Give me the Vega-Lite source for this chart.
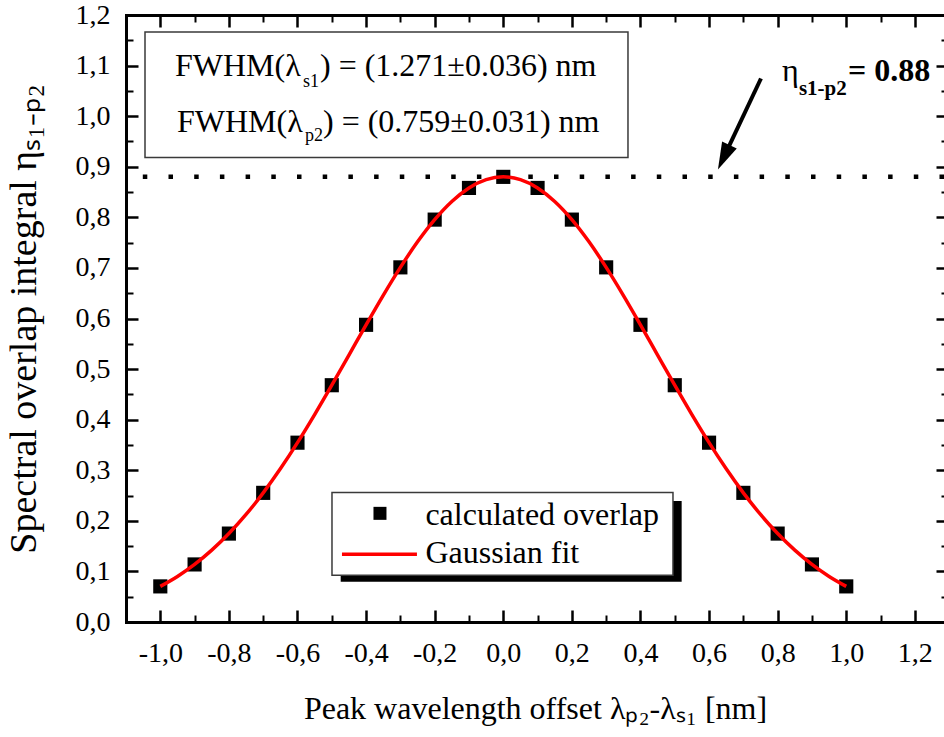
{
  "$schema": "https://vega.github.io/schema/vega-lite/v6.json",
  "width": 818,
  "height": 607,
  "autosize": {"type": "none"},
  "padding": {"left": 126, "top": 15, "right": 0, "bottom": 115},
  "background": "white",
  "config": {
    "view": {"stroke": null},
    "font": "Liberation Serif",
    "axis": {
      "grid": false,
      "labelFont": "Liberation Serif",
      "labelFontSize": 28,
      "labelColor": "black",
      "tickColor": "black",
      "domainColor": "black",
      "domainWidth": 3,
      "domainCap": "square",
      "tickWidth": 2.5,
      "titleFont": "Liberation Serif",
      "titleFontWeight": "normal",
      "titleColor": "black",
      "labelFlush": false,
      "labelOverlap": false
    },
    "text": {"font": "Liberation Serif", "color": "black"}
  },
  "datasets": {
    "overlap": [
      {"offset": -1.0, "eta": 0.0704},
      {"offset": -0.9, "eta": 0.1138},
      {"offset": -0.8, "eta": 0.1748},
      {"offset": -0.7, "eta": 0.2553},
      {"offset": -0.6, "eta": 0.3545},
      {"offset": -0.5, "eta": 0.4681},
      {"offset": -0.4, "eta": 0.5875},
      {"offset": -0.3, "eta": 0.7011},
      {"offset": -0.2, "eta": 0.7955},
      {"offset": -0.1, "eta": 0.8581},
      {"offset": 0.0, "eta": 0.88},
      {"offset": 0.1, "eta": 0.8581},
      {"offset": 0.2, "eta": 0.7955},
      {"offset": 0.3, "eta": 0.7011},
      {"offset": 0.4, "eta": 0.5875},
      {"offset": 0.5, "eta": 0.4681},
      {"offset": 0.6, "eta": 0.3545},
      {"offset": 0.7, "eta": 0.2553},
      {"offset": 0.8, "eta": 0.1748},
      {"offset": 0.9, "eta": 0.1138},
      {"offset": 1.0, "eta": 0.0704}
    ],
    "fit": [
      {"offset": -1.0, "eta": 0.0704},
      {"offset": -0.95, "eta": 0.0901},
      {"offset": -0.9, "eta": 0.1138},
      {"offset": -0.85, "eta": 0.142},
      {"offset": -0.8, "eta": 0.1748},
      {"offset": -0.75, "eta": 0.2126},
      {"offset": -0.7, "eta": 0.2553},
      {"offset": -0.65, "eta": 0.3028},
      {"offset": -0.6, "eta": 0.3545},
      {"offset": -0.55, "eta": 0.41},
      {"offset": -0.5, "eta": 0.4681},
      {"offset": -0.45, "eta": 0.5277},
      {"offset": -0.4, "eta": 0.5875},
      {"offset": -0.35, "eta": 0.6459},
      {"offset": -0.3, "eta": 0.7011},
      {"offset": -0.25, "eta": 0.7516},
      {"offset": -0.2, "eta": 0.7955},
      {"offset": -0.15, "eta": 0.8314},
      {"offset": -0.1, "eta": 0.8581},
      {"offset": -0.05, "eta": 0.8745},
      {"offset": 0.0, "eta": 0.88},
      {"offset": 0.05, "eta": 0.8745},
      {"offset": 0.1, "eta": 0.8581},
      {"offset": 0.15, "eta": 0.8314},
      {"offset": 0.2, "eta": 0.7955},
      {"offset": 0.25, "eta": 0.7516},
      {"offset": 0.3, "eta": 0.7011},
      {"offset": 0.35, "eta": 0.6459},
      {"offset": 0.4, "eta": 0.5875},
      {"offset": 0.45, "eta": 0.5277},
      {"offset": 0.5, "eta": 0.4681},
      {"offset": 0.55, "eta": 0.41},
      {"offset": 0.6, "eta": 0.3545},
      {"offset": 0.65, "eta": 0.3028},
      {"offset": 0.7, "eta": 0.2553},
      {"offset": 0.75, "eta": 0.2126},
      {"offset": 0.8, "eta": 0.1748},
      {"offset": 0.85, "eta": 0.142},
      {"offset": 0.9, "eta": 0.1138},
      {"offset": 0.95, "eta": 0.0901},
      {"offset": 1.0, "eta": 0.0704}
    ],
    "text32": [
      {"x": -0.9571, "y": 1.0798, "label": "FWHM(λ"},
      {"x": -0.5344, "y": 1.0798, "label": ") = (1.271±0.036) nm"},
      {"x": -0.9513, "y": 0.9695, "label": "FWHM(λ"},
      {"x": -0.5257, "y": 0.9695, "label": ") = (0.759±0.031) nm"},
      {"x": 0.8125, "y": 1.07, "label": "η"},
      {"x": -0.227, "y": 0.1911, "label": "calculated overlap"},
      {"x": -0.227, "y": 0.1163, "label": "Gaussian fit"}
    ],
    "text18": [
      {"x": -0.584, "y": 1.0581, "label": "s1"},
      {"x": -0.5781, "y": 0.9517, "label": "p2"}
    ]
  },
  "resolve": {"axis": {"x": "independent", "y": "independent"}},
  "layer": [
    {
      "data": {"values": [{"x1": -1.0446, "x2": 0.3636, "y1": 0.9182, "y2": 1.1665}]},
      "mark": {"type": "rect", "fill": "white", "stroke": "#3a3a3a", "strokeWidth": 1.5},
      "encoding": {
        "x": {
          "field": "x1", "type": "quantitative",
          "scale": {"domain": [-1.1, 1.285], "nice": false, "zero": false},
          "axis": {
            "orient": "bottom",
            "values": [-1, -0.8, -0.6, -0.4, -0.2, 0, 0.2, 0.4, 0.6, 0.8, 1, 1.2],
            "labelExpr": "replace(replace(format(datum.value, '.1f'), '.', ','), '\u2212', '-')",
            "tickSize": -12,
            "labelPadding": 29,
            "domain": true,
            "title": "Peak wavelength offset λₚ₂-λₛ₁ [nm]",
            "titleFontSize": 32,
            "titlePadding": 26
          }
        },
        "x2": {"field": "x2"},
        "y": {
          "field": "y1", "type": "quantitative",
          "scale": {"domain": [0, 1.2], "nice": false, "zero": false},
          "axis": {
            "orient": "left",
            "values": [0, 0.1, 0.2, 0.3, 0.4, 0.5, 0.6, 0.7, 0.8, 0.9, 1.0, 1.1, 1.2],
            "labelExpr": "replace(format(datum.value, '.1f'), '.', ',')",
            "tickSize": -12,
            "labelPadding": 28,
            "domain": true,
            "title": "Spectral overlap integral ηₛ₁₋ₚ₂",
            "titleFontSize": 38,
            "titlePadding": 32
          }
        },
        "y2": {"field": "y2"}
      }
    },
    {
      "data": {"values": [{"x1": -0.474, "x2": 0.5201, "y1": 0.0794, "y2": 0.239}]},
      "mark": {"type": "rect", "fill": "black", "strokeWidth": 0},
      "encoding": {
        "x": {
          "field": "x1", "type": "quantitative",
          "axis": {
            "orient": "bottom",
            "values": [-0.9, -0.7, -0.5, -0.3, -0.1, 0.1, 0.3, 0.5, 0.7, 0.9, 1.1],
            "labels": false, "domain": false, "tickSize": -7, "tickWidth": 2, "title": null
          }
        },
        "x2": {"field": "x2"},
        "y": {
          "field": "y1", "type": "quantitative",
          "axis": {
            "orient": "left",
            "values": [0.05, 0.15, 0.25, 0.35, 0.45, 0.55, 0.65, 0.75, 0.85, 0.95, 1.05, 1.15],
            "labels": false, "domain": false, "tickSize": -7, "tickWidth": 2, "title": null
          }
        },
        "y2": {"field": "y2"}
      }
    },
    {
      "data": {"values": [{"x1": -0.4994, "x2": 0.4948, "y1": 0.0926, "y2": 0.2562}]},
      "mark": {"type": "rect", "fill": "white", "stroke": "#3a3a3a", "strokeWidth": 1.5},
      "encoding": {
        "x": {
          "field": "x1", "type": "quantitative",
          "axis": {
            "orient": "top",
            "values": [-1, -0.8, -0.6, -0.4, -0.2, 0, 0.2, 0.4, 0.6, 0.8, 1, 1.2],
            "labels": false, "domain": true, "tickSize": -12, "title": null
          }
        },
        "x2": {"field": "x2"},
        "y": {
          "field": "y1", "type": "quantitative",
          "axis": {
            "orient": "right",
            "offset": 4,
            "values": [0, 0.1, 0.2, 0.3, 0.4, 0.5, 0.6, 0.7, 0.8, 0.9, 1.0, 1.1, 1.2],
            "labels": false, "domain": false, "tickSize": -12, "title": null
          }
        },
        "y2": {"field": "y2"}
      }
    },
    {
      "data": {"values": [{"x1": 0.7513, "y1": 1.0745, "x2": 0.6534, "y2": 0.9338}]},
      "mark": {"type": "rule", "color": "black", "strokeWidth": 4},
      "encoding": {
        "x": {
          "field": "x1", "type": "quantitative",
          "axis": {
            "orient": "top",
            "values": [-0.9, -0.7, -0.5, -0.3, -0.1, 0.1, 0.3, 0.5, 0.7, 0.9, 1.1],
            "labels": false, "domain": false, "tickSize": -7, "tickWidth": 2, "title": null
          }
        },
        "x2": {"field": "x2"},
        "y": {
          "field": "y1", "type": "quantitative",
          "axis": {
            "orient": "right",
            "offset": 4,
            "values": [0.05, 0.15, 0.25, 0.35, 0.45, 0.55, 0.65, 0.75, 0.85, 0.95, 1.05, 1.15],
            "labels": false, "domain": false, "tickSize": -7, "tickWidth": 2, "title": null
          }
        },
        "y2": {"field": "y2"}
      }
    },
    {
      "data": {"values": [{"level": 0.88}]},
      "mark": {"type": "rule", "color": "black", "strokeWidth": 4.5, "strokeCap": "butt", "strokeDash": [4.5, 21.2]},
      "encoding": {
        "y": {"field": "level", "type": "quantitative", "axis": null}
      }
    },
    {
      "data": {"name": "overlap"},
      "mark": {"type": "point", "shape": "square", "filled": true, "color": "black", "opacity": 1, "size": 200},
      "encoding": {
        "x": {"field": "offset", "type": "quantitative", "axis": null},
        "y": {"field": "eta", "type": "quantitative", "axis": null}
      }
    },
    {
      "data": {"name": "fit"},
      "mark": {"type": "line", "color": "#ff0000", "strokeWidth": 3.5, "interpolate": "monotone"},
      "encoding": {
        "x": {"field": "offset", "type": "quantitative", "axis": null},
        "y": {"field": "eta", "type": "quantitative", "axis": null}
      }
    },
    {
      "data": {"values": [{"x": 0.6259, "y": 0.8946}]},
      "mark": {"type": "point", "shape": "M0,0L0.6,2L-0.6,2Z", "size": 729, "angle": 205.2, "filled": true, "color": "black", "opacity": 1, "strokeWidth": 0},
      "encoding": {
        "x": {"field": "x", "type": "quantitative", "axis": null},
        "y": {"field": "y", "type": "quantitative", "axis": null}
      }
    },
    {
      "data": {"values": [{"x": -0.3595, "y": 0.2148}]},
      "mark": {"type": "point", "shape": "square", "filled": true, "color": "black", "opacity": 1, "size": 169},
      "encoding": {
        "x": {"field": "x", "type": "quantitative", "axis": null},
        "y": {"field": "y", "type": "quantitative", "axis": null}
      }
    },
    {
      "data": {"values": [{"x1": -0.4703, "x2": -0.2517, "y": 0.134}]},
      "mark": {"type": "rule", "color": "#ff0000", "strokeWidth": 3.5},
      "encoding": {
        "x": {"field": "x1", "type": "quantitative", "axis": null},
        "x2": {"field": "x2"},
        "y": {"field": "y", "type": "quantitative", "axis": null}
      }
    },
    {
      "data": {"name": "text32"},
      "mark": {"type": "text", "align": "left", "baseline": "alphabetic", "fontSize": 32, "font": "Liberation Serif", "color": "black"},
      "encoding": {
        "x": {"field": "x", "type": "quantitative", "axis": null},
        "y": {"field": "y", "type": "quantitative", "axis": null},
        "text": {"field": "label"}
      }
    },
    {
      "data": {"name": "text18"},
      "mark": {"type": "text", "align": "left", "baseline": "alphabetic", "fontSize": 18, "font": "Liberation Serif", "color": "black"},
      "encoding": {
        "x": {"field": "x", "type": "quantitative", "axis": null},
        "y": {"field": "y", "type": "quantitative", "axis": null},
        "text": {"field": "label"}
      }
    },
    {
      "data": {"values": [{"x": 1.005, "y": 1.07, "label": "= 0.88"}]},
      "mark": {"type": "text", "align": "left", "baseline": "alphabetic", "fontSize": 32, "fontWeight": "bold", "font": "Liberation Serif", "color": "black"},
      "encoding": {
        "x": {"field": "x", "type": "quantitative", "axis": null},
        "y": {"field": "y", "type": "quantitative", "axis": null},
        "text": {"field": "label"}
      }
    },
    {
      "data": {"values": [{"x": 0.862, "y": 1.0424, "label": "s1-p2"}]},
      "mark": {"type": "text", "align": "left", "baseline": "alphabetic", "fontSize": 21, "fontWeight": "bold", "font": "Liberation Serif", "color": "black"},
      "encoding": {
        "x": {"field": "x", "type": "quantitative", "axis": null},
        "y": {"field": "y", "type": "quantitative", "axis": null},
        "text": {"field": "label"}
      }
    }
  ]
}
